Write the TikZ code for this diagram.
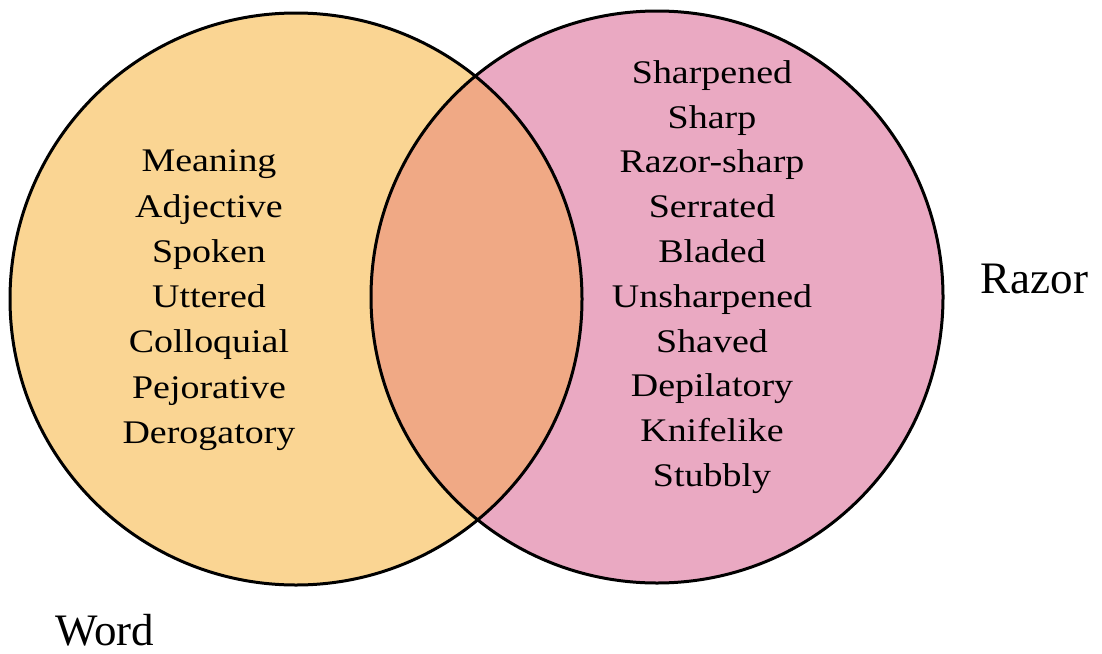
\documentclass[tikz,border=0pt]{standalone}
\usepackage{fontspec}
\setmainfont{Liberation Serif}
\newfontfamily\listfont[FakeStretch=1.15]{Liberation Serif}
\definecolor{wordfill}{RGB}{250,213,147}
\definecolor{razorfill}{RGB}{234,169,194}
\definecolor{bothfill}{RGB}{240,169,133}
\tikzset{
  ring/.style={draw=black, line width=3pt},
  listtext/.style={inner sep=0pt, anchor=base, font=\listfont\fontsize{33}{40}\selectfont},
  setlabel/.style={inner sep=0pt, anchor=base west, font=\fontsize{45}{54}\selectfont},
}
\begin{document}
\begin{tikzpicture}[x=1pt, y=-1pt]
  \useasboundingbox (0,0) rectangle (1102,653);
  % set centres and radius
  \coordinate (cw) at (296,299);
  \coordinate (cr) at (657,297);
  \def\rad{286}
  % fills
  \fill[wordfill] (cw) circle[radius=\rad];
  \fill[razorfill] (cr) circle[radius=\rad];
  \begin{scope}
    \clip (cw) circle[radius=\rad];
    \fill[bothfill] (cr) circle[radius=\rad];
  \end{scope}
  % outlines
  \draw[ring] (cw) circle[radius=\rad];
  \draw[ring] (cr) circle[radius=\rad];
  % word list
  \foreach \t [count=\i] in {Meaning,Adjective,Spoken,Uttered,Colloquial,Pejorative,Derogatory}
    \node[listtext] (w\i) at ({209},{171.7+45.3*(\i-1)}) {\t};
  % razor list
  \foreach \t [count=\i] in {Sharpened,Sharp,Razor-sharp,Serrated,Bladed,Unsharpened,Shaved,Depilatory,Knifelike,Stubbly}
    \node[listtext] (r\i) at ({712},{83.3+44.8*(\i-1)}) {\t};
  % set names
  \node[setlabel] (razor) at (980.7,293.3) {Razor};
  \node[setlabel] (word) at (55,645) {Word};
\end{tikzpicture}
\end{document}
